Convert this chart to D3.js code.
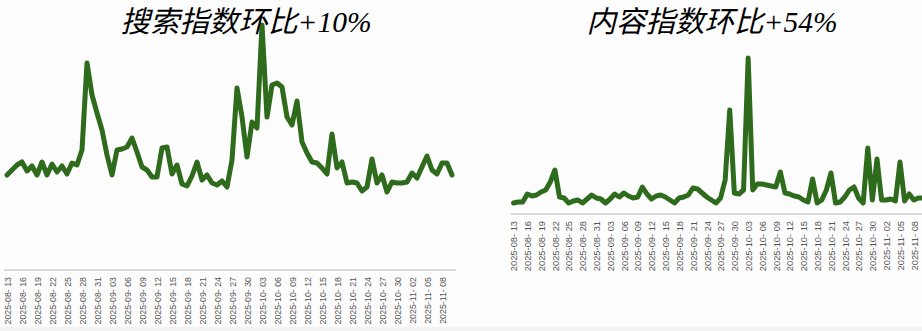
<!DOCTYPE html>
<html>
<head>
<meta charset="utf-8">
<script src="https://cdn.jsdelivr.net/npm/d3@7"></script>
<style>
body{margin:0;background:#fdfdfd;}
svg{display:block;}
</style>
</head>
<body>
<svg id="svg1" width="922" height="331"></svg>
<script>
// data (index units, baseline = 0)
var startDay = '2025-08-13';
var dayCount = 90;
var searchIndex = [95,100,105,108,99,104,95,108,95,106,98,104,96,107,105,120,207,175,157,140,
    115,95,120,121,123,132,118,103,100,93,93,122,123,96,105,86,84,94,108,90,
    95,87,85,89,83,110,182,153,113,148,142,245,153,185,187,183,153,145,169,128,
    117,108,107,102,96,136,102,108,87,88,87,79,83,111,87,95,78,88,87,87,
    88,97,92,103,114,100,96,107,107,95];
var contentIndex = [11,12,12,20,18,19,22,24,32,44,17,16,11,13,14,11,15,19,16,15,
    11,15,20,17,21,18,16,17,27,20,15,18,19,17,14,11,16,17,19,26,
    25,21,17,14,11,16,34,104,21,20,24,156,24,30,30,29,28,27,42,21,
    20,18,17,14,12,35,11,14,24,41,11,12,17,24,27,16,11,66,14,55,
    14,14,15,13,52,13,20,14,16,16];
var titles = ['搜索指数环比+10%', '内容指数环比+54%'];

var width = document.getElementById('svg1').clientWidth;
var height = document.getElementById('svg1').clientHeight;

var svg = d3.select('svg');

// faint strip along the bottom edge
svg.append('rect')
    .attr('x', 0).attr('y', height - 4)
    .attr('width', width).attr('height', 4)
    .attr('fill', '#f3f3f3');

var parseDay = d3.utcParse('%Y-%m-%d');
var first = parseDay(startDay);
var days = d3.utcDay.range(first, d3.utcDay.offset(first, dayCount));
var tickDays = days.filter(function(d, i){ return i % 3 === 0; });
var fmtTick = d3.utcFormat('%Y-%m- %d');

var panels = [
    {title: titles[0], data: searchIndex, left: 7, right: 452, base: 270, top: 20, max: 250,
     titleX: 246, axisL: 4, axisR: 456, fontSize: 8.8},
    {title: titles[1], data: contentIndex, left: 513.5, right: 923, base: 214, top: 54, max: 160,
     titleX: 712, axisL: 511, axisR: 922, fontSize: 9.3}
];

panels.forEach(function(p){
    var x = d3.scalePoint().domain(days).range([p.left, p.right]);
    var y = d3.scaleLinear().domain([0, p.max]).range([p.base, p.top]);

    var g = svg.append('g');

    // axis baseline
    g.append('line')
        .attr('x1', p.axisL).attr('x2', p.axisR)
        .attr('y1', p.base).attr('y2', p.base)
        .attr('stroke', '#d9d9d9')
        .attr('stroke-width', 2);

    var axis = g.append('g')
        .attr('transform', 'translate(0,' + p.base + ')')
        .call(d3.axisBottom(x).tickValues(tickDays).tickSize(0).tickFormat(fmtTick));
    axis.select('.domain').remove();
    axis.selectAll('text')
        .attr('transform', 'rotate(-90)')
        .attr('text-anchor', 'end')
        .attr('x', -7)
        .attr('y', 0)
        .attr('dy', '0.35em')
        .attr('fill', '#555')
        .style('font-family', '"Liberation Sans", Arial, sans-serif')
        .style('font-size', p.fontSize + 'px');

    var line = d3.line()
        .x(function(d, i){ return x(days[i]); })
        .y(function(d){ return y(d); });

    g.append('path')
        .datum(p.data)
        .attr('d', line)
        .attr('fill', 'none')
        .attr('stroke', '#2f6b1c')
        .attr('stroke-width', 5)
        .attr('stroke-linejoin', 'round')
        .attr('stroke-linecap', 'round');

    g.append('text')
        .attr('x', p.titleX)
        .attr('y', 32)
        .attr('text-anchor', 'middle')
        .style('font-family', '"Liberation Serif", "Noto Sans CJK SC", serif')
        .style('font-style', 'italic')
        .style('font-size', '29.5px')
        .attr('fill', '#000')
        .text(p.title);
});
</script>
</body>
</html>
